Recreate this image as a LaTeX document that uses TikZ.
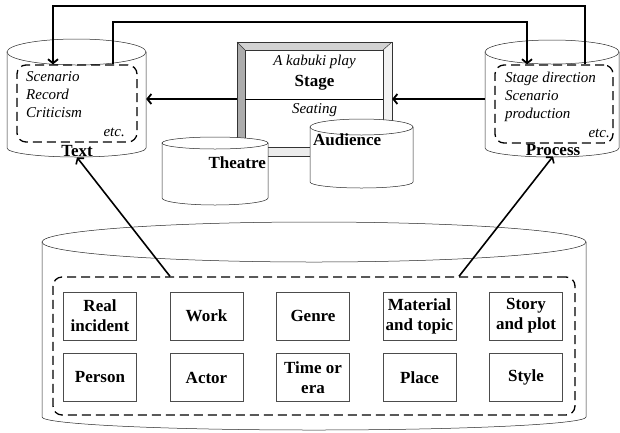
\documentclass[tikz,border=0pt]{standalone}
\usepackage{fontspec}
\setmainfont{Liberation Serif}
\usepackage{tikz}
\usetikzlibrary{arrows.meta}

% drum: centre x, radius x, top y, top radius y, bottom y, bottom radius y
\newcommand{\drum}[6]{%
  \filldraw[fill=white,draw=black!85,line width=0.5pt]
    ({#1-#2},#3) -- ({#1-#2},#5) arc[start angle=180,end angle=0,x radius=#2,y radius=#6]
    -- ({#1+#2},#3) -- cycle;
  \filldraw[fill=white,draw=black!85,line width=0.5pt] (#1,#3) ellipse[x radius=#2,y radius=#4];
}

\tikzset{
  db/.style={draw=none,inner sep=0pt},
  tag/.style={font=\fontsize{17}{20}\selectfont\bfseries,inner sep=1pt},
  note/.style={font=\fontsize{15}{18}\selectfont\itshape,align=left,inner sep=0pt},
  cat/.style={draw=black!70,line width=0.6pt,minimum width=73pt,minimum height=48pt,
    inner sep=0pt,align=center,font=\fontsize{17}{20}\selectfont\bfseries},
  group/.style={draw,dash pattern=on 9pt off 5pt,line width=1.3pt,rounded corners=9pt,inner sep=0pt},
  link/.style={line width=1.8pt,->},
}

\begin{document}
\begin{tikzpicture}[x=1pt,y=-1pt,>={Straight Barb[length=4pt,width=10pt]}]
\useasboundingbox (0,0) rectangle (620,432);

% the three stores at the top and the archive below
\drum{76.5}{69.5}{52}{13}{148}{9}
\drum{552}{67}{52}{12}{148}{9}
\drum{314}{272}{242}{20}{417}{13}
\node[db,minimum width=139pt,minimum height=96pt] at (76.5,99) (textdb) {};
\node[db,minimum width=134pt,minimum height=96pt] at (552,99) (procdb) {};

% stage frame
\fill[gray!65] (237,42) -- (245,50) -- (245,147) -- (237,156) -- cycle;
\fill[gray!35] (237,42) -- (392,42) -- (383,50) -- (245,50) -- cycle;
\fill[gray!10] (392,42) -- (392,156) -- (383,147) -- (383,50) -- cycle;
\fill[gray!15] (237,156) -- (392,156) -- (383,147) -- (245,147) -- cycle;
\draw[line width=0.5pt,black!80] (237,42) rectangle (392,156);
\draw[line width=0.5pt,black!80] (245,50) rectangle (383,147);
\draw[line width=0.5pt,black!80] (237,42) -- (245,50) (392,42) -- (383,50)
  (237,156) -- (245,147) (392,156) -- (383,147);
\draw[line width=0.6pt] (245,99) -- (383,99);
\node[db,minimum width=155pt,minimum height=114pt] at (314.5,99) (stage) {};
\node[note,anchor=base] at (314.5,65) (play) {A kabuki play};
\node[tag,anchor=base] at (314.5,86) (stagelbl) {Stage};
\node[note,anchor=base] at (314.5,113) (seat) {Seating};

% theatre and audience in front of the frame
\drum{215}{53}{143}{6}{198}{7}
\drum{361.5}{51.5}{127}{8}{182}{6}
\node[tag,anchor=base east] at (267,168) (theatre) {Theatre};
\node[tag,anchor=base west] at (312,145) (audience) {Audience};

% contents of the two stores
\node[group,minimum width=120pt,minimum height=77pt] at (77,103.5) (textbox) {};
\node[note,anchor=north west] at (26,71) (textlist) {Scenario\\Record\\Criticism};
\node[note,anchor=base east] at (125,136) (textetc) {etc.};
\node[tag,anchor=base] at (77,156) (textlbl) {Text};

\node[group,minimum width=118pt,minimum height=78pt] at (554,104) (procbox) {};
\node[note,anchor=north west] at (505,72) (proclist) {Stage direction\\Scenario\\production};
\node[note,anchor=base east] at (610,137) (procetc) {etc.};
\node[tag,anchor=base] at (553,155) (proclbl) {Process};

% categories in the archive
\node[group,minimum width=522pt,minimum height=138pt] at (314,346) (catbox) {};
\node[cat] at (100,316) (c1) {Real\\incident};
\node[cat] at ([xshift=106.5pt]c1) (c2) {Work};
\node[cat] at ([xshift=106.5pt]c2) (c3) {Genre};
\node[cat] at ([xshift=106.5pt]c3) (c4) {Material\\and topic};
\node[cat] at ([xshift=106.5pt]c4) (c5) {Story\\and plot};
\node[cat] at (100,377.5) (c6) {Person};
\node[cat] at ([xshift=106.5pt]c6) (c7) {Actor};
\node[cat] at ([xshift=106.5pt]c7) (c8) {Time or\\era};
\node[cat] at ([xshift=106.5pt]c8) (c9) {Place};
\node[cat] at ([xshift=106.5pt]c9) (c10) {Style};

% links
\draw[link] (stage.west) -- (textdb.east);
\draw[link] (procdb.west) -- (stage.east);
\draw[link] ([xshift=31pt]procbox.north) -- ++(0,-58) -| ([xshift=-24pt]textbox.north);
\draw[link] ([xshift=36pt]textbox.north) -- ++(0,-42) -| ([xshift=-27pt]procbox.north);
\draw[link,line width=1.6pt] ([xshift=-144pt]catbox.north) -- (textlbl.south);
\draw[link,line width=1.6pt] ([xshift=145pt]catbox.north) -- (proclbl.south);

\end{tikzpicture}
\end{document}
